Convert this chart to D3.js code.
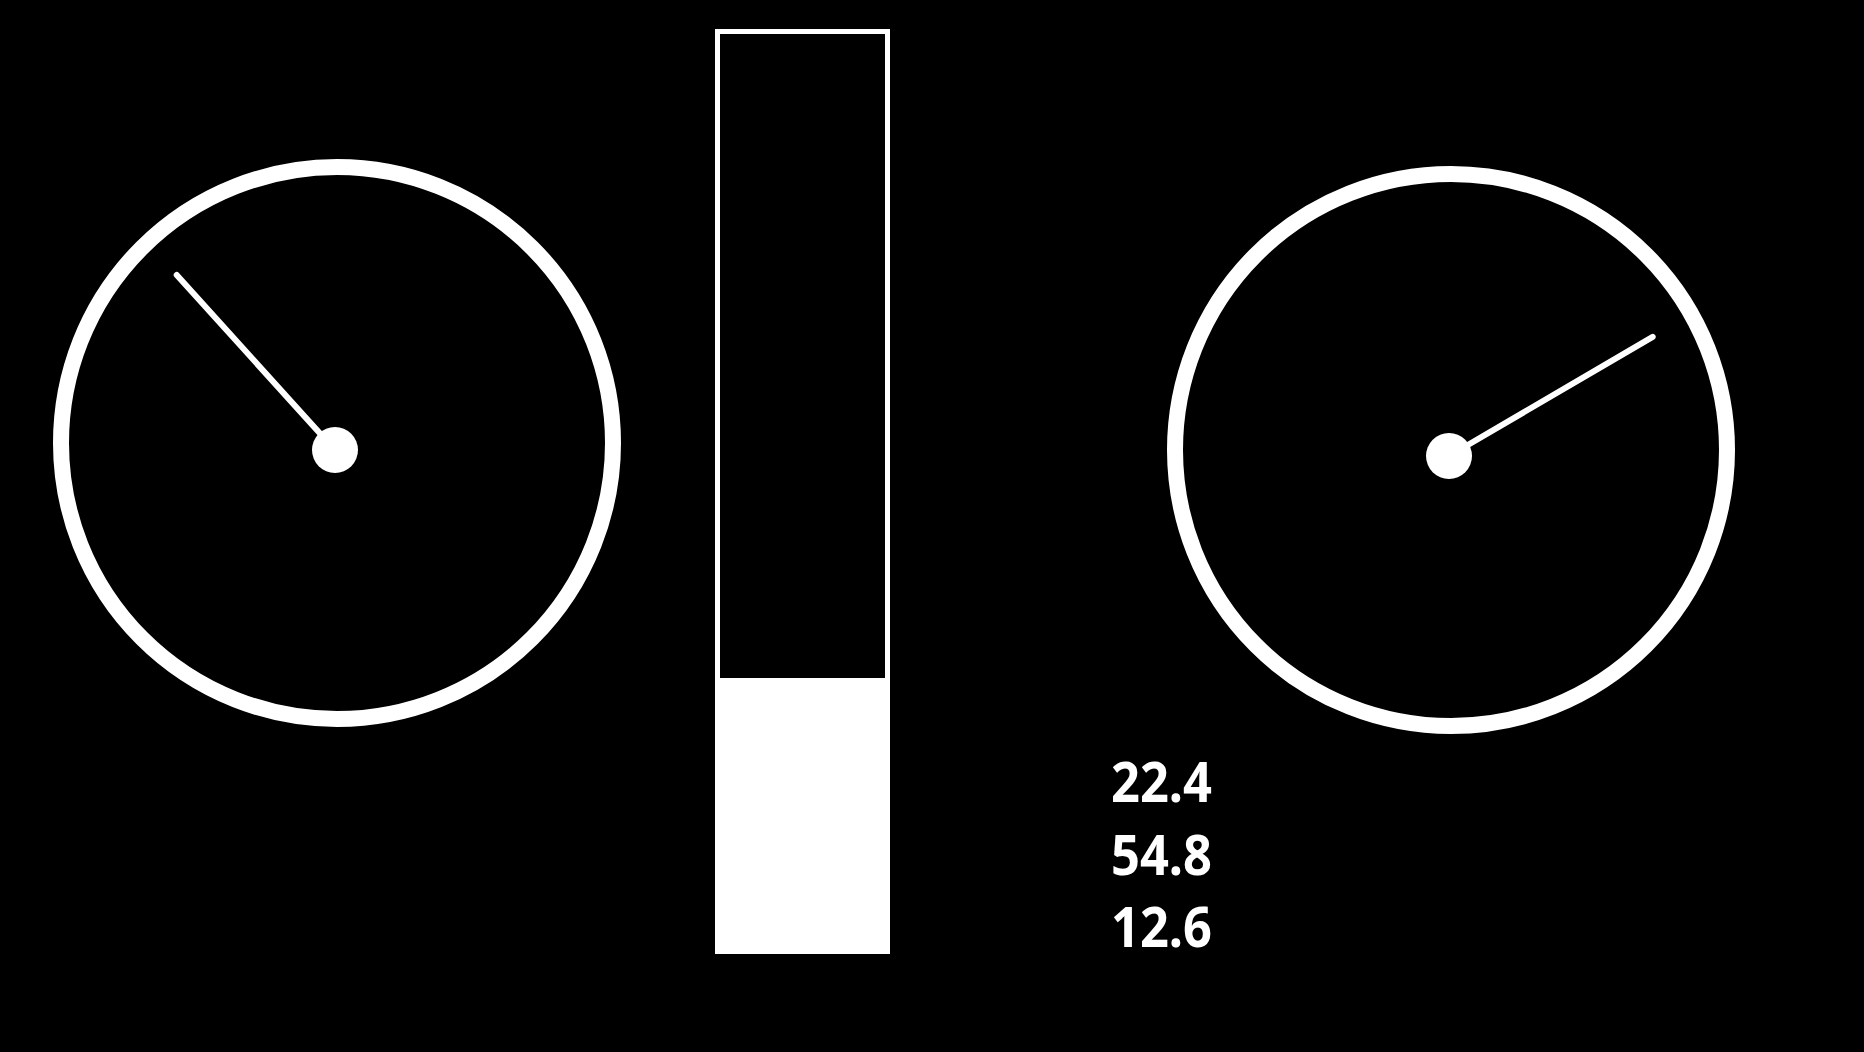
<!DOCTYPE html>
<html>
<head>
<meta charset="utf-8">
<script src="https://cdn.jsdelivr.net/npm/d3@7"></script>
<style>
  html, body { margin: 0; padding: 0; background: #000; overflow: hidden; }
</style>
</head>
<body>
<div id="chart"></div>
<script>
// gauge readings (0-100 dial, 270 degree sweep)
const gaugeNames = ["left", "right"];
const gaugeValues = [34.4, 72.1];
// vertical level bar (0-100)
const barValue = 30;
// readout text
const readouts = ["22.4", "54.8", "12.6"];

const width = 1864, height = 1052;

const svg = d3.select("#chart")
  .append("svg")
  .attr("width", width)
  .attr("height", height)
  .style("background", "#000");

// dial angle in degrees, 0 = straight up
const angle = d3.scaleLinear().domain([0, 100]).range([-135, 135]);

const gaugeCenters = d3.scaleOrdinal()
  .domain(gaugeNames)
  .range([{ cx: 337, cy: 443, hx: 335, hy: 450 }, { cx: 1451, cy: 450, hx: 1449, hy: 456 }]);

const ringR = 276, needleLen = 236;

const gauges = svg.selectAll(".gauge")
  .data(gaugeNames.map((name, i) => ({ name, value: gaugeValues[i] })))
  .enter()
  .append("g")
  .attr("class", "gauge");

gauges.append("circle")
  .attr("cx", (d) => gaugeCenters(d.name).cx)
  .attr("cy", (d) => gaugeCenters(d.name).cy)
  .attr("r", ringR)
  .style("fill", "none")
  .style("stroke", "#fff")
  .style("stroke-width", 16);

gauges.append("line")
  .attr("x1", (d) => gaugeCenters(d.name).hx)
  .attr("y1", (d) => gaugeCenters(d.name).hy)
  .attr("x2", (d) => gaugeCenters(d.name).hx + needleLen * Math.sin(angle(d.value) * Math.PI / 180))
  .attr("y2", (d) => gaugeCenters(d.name).hy - needleLen * Math.cos(angle(d.value) * Math.PI / 180))
  .style("stroke", "#fff")
  .style("stroke-width", 6)
  .style("stroke-linecap", "round");

gauges.append("circle")
  .attr("cx", (d) => gaugeCenters(d.name).hx)
  .attr("cy", (d) => gaugeCenters(d.name).hy)
  .attr("r", 23)
  .style("fill", "#fff");

// level bar
const barX = 715, barW = 175, barTop = 29, barBottom = 954;
const y = d3.scaleLinear().domain([0, 100]).range([barBottom, barTop + 5]);

svg.append("rect")
  .attr("x", barX + 2.5)
  .attr("y", barTop + 2.5)
  .attr("width", barW - 5)
  .attr("height", barBottom - barTop - 5)
  .style("fill", "none")
  .style("stroke", "#fff")
  .style("stroke-width", 5);

svg.append("rect")
  .attr("x", barX)
  .attr("y", y(barValue))
  .attr("width", barW)
  .attr("height", barBottom - y(barValue))
  .style("fill", "#fff");

// readouts
svg.selectAll(".readout")
  .data(readouts)
  .enter()
  .append("text")
  .attr("class", "readout")
  .attr("x", 1111)
  .attr("y", (d, i) => 802 + i * 72.5)
  .attr("textLength", 101)
  .attr("lengthAdjust", "spacingAndGlyphs")
  .style("fill", "#fff")
  .style("font-family", "'Noto Sans', sans-serif")
  .style("font-weight", 700)
  .style("font-size", "55px")
  .text((d) => d);
</script>
</body>
</html>
